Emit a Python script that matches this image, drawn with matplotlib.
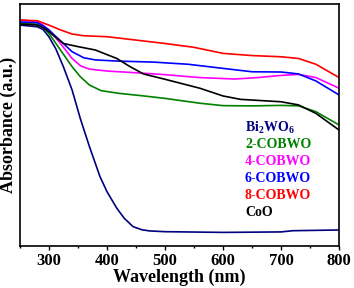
import matplotlib
matplotlib.use("Agg")
import matplotlib.pyplot as plt
from matplotlib.ticker import MultipleLocator

plt.rcParams['font.family'] = ['Liberation Serif', 'DejaVu Serif']
plt.rcParams['font.weight'] = 'bold'
plt.rcParams['mathtext.fontset'] = 'custom'
plt.rcParams['mathtext.rm'] = 'Liberation Serif:bold'
plt.rcParams['mathtext.bf'] = 'Liberation Serif:bold'

# Bi2WO6
bi_x = [250, 280, 290, 300, 312, 325, 340, 354, 370, 388, 400, 417, 430, 445, 460, 474, 500, 600, 700, 720, 800]
bi_y = [91.3, 90.6, 89.5, 86.5, 81.5, 74.1, 64.5, 52.8, 41.0, 28.7, 22.5, 15.6, 11.4, 8.0, 6.7, 6.2, 5.9, 5.6, 5.8, 6.3, 6.6]

# 2-COBWO
c2_x = [250, 280, 290, 300, 320, 340, 354, 370, 390, 420, 460, 500, 560, 600, 650, 700, 730, 760, 800]
c2_y = [92.0, 91.7, 90.3, 87.9, 81.0, 74.1, 70.0, 66.5, 64.2, 63.1, 62.1, 61.0, 59.0, 58.0, 57.9, 58.1, 57.9, 55.5, 50.0]

# 4-COBWO
c4_x = [250, 280, 290, 300, 320, 340, 355, 370, 400, 450, 500, 560, 620, 660, 700, 730, 760, 800]
c4_y = [93.4, 92.7, 91.3, 89.3, 83.7, 77.5, 74.4, 73.1, 72.3, 71.6, 70.8, 69.6, 69.0, 69.6, 70.5, 70.9, 69.6, 65.2]

# 6-COBWO
c6_x = [250, 280, 290, 300, 320, 340, 360, 380, 420, 480, 540, 600, 650, 700, 730, 760, 800]
c6_y = [92.6, 92.3, 91.0, 89.3, 84.8, 80.3, 77.8, 76.9, 76.4, 76.0, 75.1, 73.4, 72.0, 71.9, 71.1, 68.2, 62.4]

# 8-COBWO
c8_x = [250, 280, 300, 320, 340, 360, 400, 450, 500, 550, 600, 650, 700, 730, 760, 800]
c8_y = [93.4, 93.1, 91.3, 89.3, 87.6, 86.9, 86.5, 85.1, 83.7, 82.1, 79.6, 78.7, 78.2, 77.5, 75.1, 69.6]

# CoO
coo_x = [250, 280, 290, 300, 325, 350, 380, 417, 440, 463, 500, 560, 600, 630, 700, 730, 760, 800]
coo_y = [91.7, 91.3, 90.3, 88.6, 83.7, 82.4, 81.0, 77.5, 74.1, 71.1, 68.9, 65.2, 62.0, 60.6, 59.6, 58.3, 54.8, 47.9]

labels = ['Bi$_{2}$WO$_{6}$', '2-COBWO', '4-COBWO', '6-COBWO', '8-COBWO', 'CoO']
colors = ['#000080', '#008000', '#ff00ff', '#0000ff', '#ff0000', '#000000']

fig = plt.figure(figsize=(3.54, 2.88), dpi=100)
ax = fig.add_axes([0.056, 0.146, 0.902, 0.840])

series = [(bi_x, bi_y), (c2_x, c2_y), (c4_x, c4_y), (c6_x, c6_y), (c8_x, c8_y), (coo_x, coo_y)]
for (x, y), c in zip(series, colors):
    ax.plot(x, y, color=c, lw=1.2)

ax.set_xlim(250, 800)
ax.set_ylim(0, 100)
ax.xaxis.set_major_locator(MultipleLocator(100))
ax.xaxis.set_minor_locator(MultipleLocator(50))
ax.set_yticks([])
ax.tick_params(axis='x', which='major', direction='out', length=3, width=1, labelsize=12, pad=2)
ax.tick_params(axis='x', which='minor', direction='out', length=1.5, width=1)
for lab in ax.get_xticklabels():
    lab.set_fontweight('bold')
for s in ax.spines.values():
    s.set_linewidth(1.2)

ax.set_xlabel('Wavelength (nm)', fontsize=13, fontweight='bold', labelpad=0)
ax.set_ylabel('Absorbance (a.u.)', fontsize=13, fontweight='bold', labelpad=2)

ty = 0.49
for lab, c in zip(labels, colors):
    ax.text(0.705, ty, lab, color=c, fontsize=10, fontweight='bold', transform=ax.transAxes, va='center')
    ty -= 0.07
fig.savefig('out.png', dpi=100)
